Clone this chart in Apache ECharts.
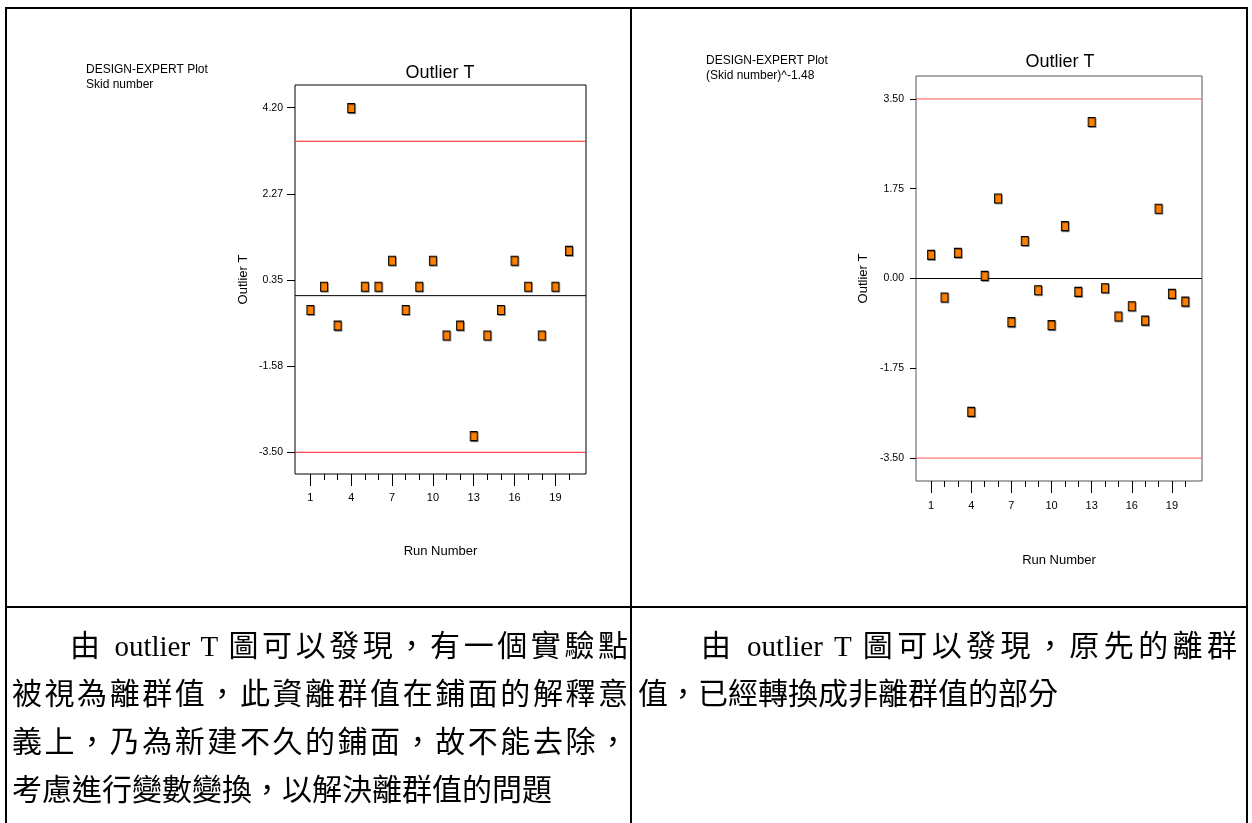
<!DOCTYPE html>
<html><head><meta charset="utf-8">
<script src="https://cdn.jsdelivr.net/npm/echarts@6/dist/echarts.min.js"></script>
<style>
html,body{margin:0;padding:0;background:#fff}
#wrap{position:relative;width:1252px;height:823px;overflow:hidden}
#c{position:absolute;left:0;top:0;width:1252px;height:823px}
.ln{position:absolute;font-family:"Noto Sans CJK TC",sans-serif;font-size:30px;line-height:40px;height:40px;color:#000;white-space:nowrap;text-justify:inter-character}
.j{text-align:justify;text-align-last:justify}
.ser{font-family:"Liberation Serif",serif;font-size:29px}
</style>
</head><body><div id="wrap"><div id="c"></div><div id="txt"></div></div>
<script>
// ---- data ----
const runs = [1,2,3,4,5,6,7,8,9,10,11,12,13,14,15,16,17,18,19,20];
const outlierLeft  = [-0.32,0.20,-0.67,4.19,0.20,0.20,0.78,-0.32,0.20,0.78,-0.89,-0.67,-3.14,-0.89,-0.32,0.78,0.20,-0.89,0.20,1.00];
const outlierRight = [0.46,-0.37,0.50,-2.60,0.05,1.56,-0.85,0.73,-0.23,-0.91,1.02,-0.26,3.05,-0.19,-0.74,-0.54,-0.82,1.36,-0.30,-0.45];
const leftTicks  = [-3.50,-1.58,0.35,2.27,4.20];
const rightTicks = [-3.50,-1.75,0.00,1.75,3.50];
const xLabelTicks = [1,4,7,10,13,16,19];
const leftLimits  = [3.45,-3.50];
const rightLimits = [3.50,-3.50];
const zeroLine = [0];
const titleText = 'Outlier T';
const yName = 'Outlier T';
const xName = 'Run Number';
const leftNote  = ['DESIGN-EXPERT Plot','Skid number'];
const rightNote = ['DESIGN-EXPERT Plot','(Skid number)^-1.48'];
const leftFirst  = ['由',' outlier T ','圖可以發現，有一個實驗點'];
const rightFirst = ['由',' outlier T ','圖可以發現，原先的離群'];
const leftPara  = ['被視為離群值，此資離群值在鋪面的解釋意','義上，乃為新建不久的鋪面，故不能去除，','考慮進行變數變換，以解決離群值的問題'];
const rightPara = ['值，已經轉換成非離群值的部分'];

// ---- paragraphs (real text, justified like the reference) ----
const lineTops = [623,671,719,767];
const T = document.getElementById('txt');
function addLine(left, top, width, html, justify){
  const d = document.createElement('div');
  d.className = 'ln' + (justify ? ' j' : '');
  d.style.left = left + 'px'; d.style.top = top + 'px';
  if (width) d.style.width = width + 'px';
  d.innerHTML = html;
  T.appendChild(d);
}
function firstHtml(p){ return p[0] + '<span class="ser">' + p[1].replace(/ /g,'&#32;') + '</span>' + p[2]; }
addLine(70, lineTops[0], 558, firstHtml(leftFirst), true);
leftPara.forEach((t,i)=>addLine(12, lineTops[i+1], i < leftPara.length-1 ? 616 : null, t, i < leftPara.length-1));
addLine(701, lineTops[0], 536, firstHtml(rightFirst), true);
rightPara.forEach((t,i)=>addLine(638, lineTops[i+1], null, t, false));

// ---- chart ----
const chart = echarts.init(document.getElementById('c'));
const SANS = 'Liberation Sans, Arial, sans-serif';
const X_MIN = -0.13, X_MAX = 21.25;

function xAxes(gi, labelTop){
  return [
    {gridIndex:gi, type:'value', min:X_MIN, max:X_MAX, position:'bottom', offset:0,
     axisLine:{show:false, onZero:false}, splitLine:{show:false},
     axisTick:{show:true, customValues:xLabelTicks, length:12, lineStyle:{color:'#000',width:1}},
     axisLabel:{show:true, customValues:xLabelTicks, margin:labelTop, fontSize:11, color:'#000', fontFamily:SANS},
     name:xName, nameLocation:'middle', nameGap: gi===0?71:73,
     nameTextStyle:{fontSize:13, color:'#000', fontFamily:SANS}},
    {gridIndex:gi, type:'value', min:X_MIN, max:X_MAX, position:'bottom', offset:0,
     axisLine:{show:false, onZero:false}, splitLine:{show:false},
     axisTick:{show:true, customValues:runs, length:6, lineStyle:{color:'#000',width:1}},
     axisLabel:{show:false}}
  ];
}
function yAxis(gi, min, max, ticks){
  return {gridIndex:gi, type:'value', min:min, max:max,
    axisLine:{show:false, onZero:false}, splitLine:{show:false},
    axisTick:{show:true, customValues:ticks, length:gi===0?8:6, lineStyle:{color:'#000'}},
    axisLabel:{show:true, customValues:ticks, margin:12, fontSize:10.5, color:'#000', fontFamily:SANS,
      formatter:v=>Number(v).toFixed(2)},
    name:yName, nameLocation:'middle', nameGap: gi===0?45:46, nameRotate:90,
    nameTextStyle:{fontSize:13, color:'#000', fontFamily:SANS}};
}
// horizontal reference line drawn through the axes as a 2-point line series
function refLine(gi, value, color){
  return {type:'line', xAxisIndex:gi*2, yAxisIndex:gi, silent:true, z:3,
    data:[[X_MIN, value],[X_MAX, value]], showSymbol:false, symbol:'none',
    lineStyle:{color:color, width:1, type:'solid', opacity:1},
    itemStyle:{color:color}, emphasis:{disabled:true}, animation:false};
}
function points(gi, vals){
  return {type:'scatter', xAxisIndex:gi*2, yAxisIndex:gi,
    data: runs.map((r,i)=>[r, vals[i]]),
    symbol:'rect', symbolSize:[7,9], z:5,
    itemStyle:{color:'#FF8000', borderColor:'#000', borderWidth:1, opacity:1,
      shadowColor:'rgba(0,0,0,0.35)', shadowOffsetX:1, shadowOffsetY:1, shadowBlur:0}};
}
const seriesList = [];
leftLimits.forEach(v=>seriesList.push(refLine(0, v, '#ff1a1a')));
rightLimits.forEach(v=>seriesList.push(refLine(1, v, '#ff5050')));
zeroLine.forEach(v=>{ seriesList.push(refLine(0, v, '#000')); seriesList.push(refLine(1, v, '#000')); });
seriesList.push(points(0, outlierLeft));
seriesList.push(points(1, outlierRight));

const g = [];
[[6,8,1248,8],[6,7,6,823],[631,8,631,823],[1247,7,1247,823],[6,607,1248,607]].forEach(s=>{
  g.push({type:'line', silent:true, shape:{x1:s[0],y1:s[1],x2:s[2],y2:s[3]}, style:{stroke:'#000', lineWidth:2}});
});
function txt(x,y,text,font,extra){
  return {type:'text', x:x, y:y, silent:true,
    style:Object.assign({text:text, font:font, fill:'#000', textVerticalAlign:'middle'}, extra||{})};
}
g.push(txt(86,70,leftNote[0],'12px '+SANS));
g.push(txt(86,85,leftNote[1],'12px '+SANS));
g.push(txt(706,61,rightNote[0],'12px '+SANS));
g.push(txt(706,76,rightNote[1],'12px '+SANS));
g.push(txt(440,73,titleText,'18px '+SANS,{textAlign:'center'}));
g.push(txt(1060,62,titleText,'18px '+SANS,{textAlign:'center'}));

chart.setOption({
  animation:false,
  backgroundColor:'#fff',
  grid:[
    {left:295, top:85, width:291, height:389, show:true, borderColor:'#000', borderWidth:1, backgroundColor:'transparent'},
    {left:916, top:76, width:286, height:405, show:true, borderColor:'#555', borderWidth:1, backgroundColor:'transparent'}
  ],
  xAxis: xAxes(0,18).concat(xAxes(1,19)),
  yAxis:[yAxis(0,-3.985,4.707,leftTicks), yAxis(1,-3.947,3.947,rightTicks)],
  series:seriesList,
  graphic:g
});
</script></body></html>
